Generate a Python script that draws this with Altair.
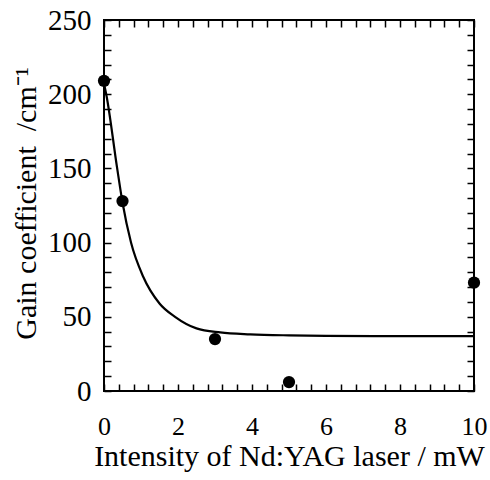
import altair as alt
import pandas as pd

# measured points
x_pts = [0, 0.5, 3, 5, 10]
y_pts = [209, 128, 35, 6, 73]

# fitted curve
curve_x = [0, 0.06, 0.35, 0.5, 0.73, 1.06, 1.5, 1.92, 2.5, 3.14, 3.95, 5, 6, 8, 10]
curve_y = [207, 200, 151, 127, 100, 77, 59, 50, 42.2, 39.5, 38.2, 37.5, 37.2, 37, 37]

x_ticks = [0, 0.4, 0.8, 1.2, 1.6, 2, 2.4, 2.8, 3.2, 3.6, 4, 4.4, 4.8, 5.2, 5.6, 6,
           6.4, 6.8, 7.2, 7.6, 8, 8.4, 8.8, 9.2, 9.6, 10]
y_ticks = [0, 10, 20, 30, 40, 50, 60, 70, 80, 90, 100, 110, 120, 130, 140, 150,
           160, 170, 180, 190, 200, 210, 220, 230, 240, 250]

x_title = "Intensity of Nd:YAG laser / mW"
y_title = "Gain coefficient \u00a0/cm\u207b\u00b9"

FONT = "Liberation Serif"
TICK = 7

pts = pd.DataFrame({"x": x_pts, "y": y_pts})
curve = pd.DataFrame({"x": curve_x, "y": curve_y})

xmaj = "abs(datum.value - 2*round(datum.value/2)) < 1e-6"
ymaj = "abs(datum.value - 50*round(datum.value/50)) < 1e-6"


def axis(orient, values, labels=False, title=None, **extra):
    # axis is pulled inside the plot by its tick length so ticks point inward
    kw = dict(
        orient=orient, values=values, domain=False, grid=False,
        ticks=True, tickOpacity=1, zindex=1,
        tickColor="black", tickWidth=1.5, tickSize=TICK, offset=-TICK,
        labels=labels, title=title,
    )
    kw.update(extra)
    return alt.Axis(**kw)


xs = alt.Scale(domain=[0, 10], nice=False, zero=False)
ys = alt.Scale(domain=[0, 250], nice=False, zero=False)

x_bottom = axis(
    "bottom", x_ticks, labels=True, title=x_title,
    labelExpr=f"{xmaj} ? format(datum.value, 'd') : ''",
    labelFont=FONT, labelFontSize=26, labelColor="black",
    labelPadding=22, labelAngle=0, labelFlush=False,
    titleFont=FONT, titleFontSize=30, titleFontWeight="normal", titleColor="black",
    titleX=185, titleY=465 - (391 - TICK), titleBaseline="alphabetic", titleAlign="center",
)
y_left = axis(
    "left", y_ticks, labels=True, title=y_title,
    labelExpr=f"{ymaj} ? format(datum.value, 'd') : ''",
    labelFont=FONT, labelFontSize=29, labelColor="black",
    labelPadding=13, labelFlush=False,
    titleFont=FONT, titleFontSize=30, titleFontWeight="normal", titleColor="black",
    titleX=35 - (104 + TICK), titleY=183, titleBaseline="alphabetic", titleAngle=-90,
    titleAlign="center",
)

line = alt.Chart(curve).mark_line(color="black", strokeWidth=2.2, interpolate="monotone").encode(
    x=alt.X("x:Q", scale=xs, axis=x_bottom),
    y=alt.Y("y:Q", scale=ys, axis=y_left),
)

dots = alt.Chart(pts).mark_circle(color="black", size=150, opacity=1).encode(
    x=alt.X("x:Q", scale=xs, axis=axis("top", x_ticks)),
    y=alt.Y("y:Q", scale=ys, axis=axis("right", y_ticks)),
)

chart = alt.layer(line, dots).resolve_axis(
    x="independent", y="independent"
).properties(
    width=370, height=371,
    padding={"left": 104, "top": 20, "right": 16, "bottom": 89},
    autosize=alt.AutoSizeParams(type="none"),
    background="white",
).configure_view(stroke="black", strokeWidth=2)

chart.save("out.html", embed_options={"renderer": "svg", "actions": False})
